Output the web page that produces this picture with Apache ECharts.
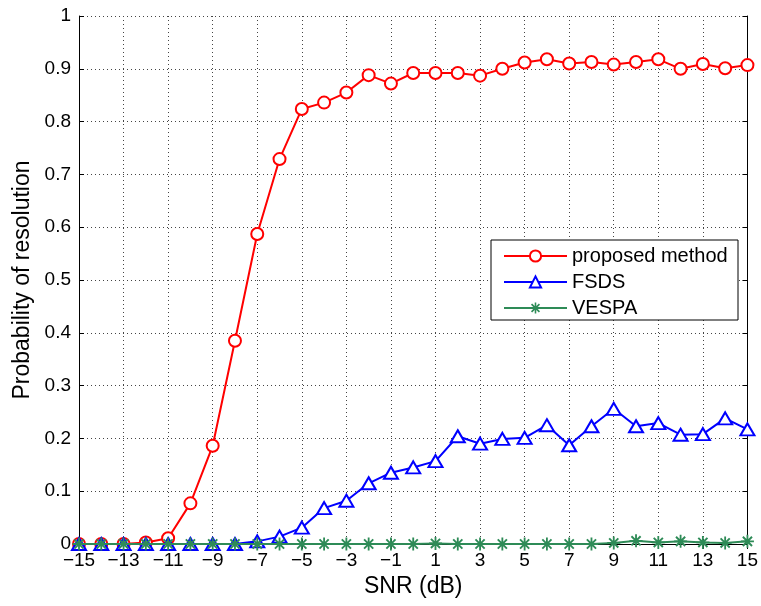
<!DOCTYPE html>
<html>
<head>
<meta charset="utf-8">
<script src="https://cdn.jsdelivr.net/npm/echarts@6/dist/echarts.min.js"></script>
<style>
  html, body { margin: 0; padding: 0; background: #fff; }
  #chart { width: 761px; height: 606px; }
</style>
</head>
<body>
<div id="chart"></div>
<script>
// SNR grid (dB)
const snr = [-15, -14, -13, -12, -11, -10, -9, -8, -7, -6, -5, -4, -3, -2, -1, 0,
             1, 2, 3, 4, 5, 6, 7, 8, 9, 10, 11, 12, 13, 14, 15];

// Probability of resolution per method
const proposed = [0, 0, 0, 0.003, 0.011, 0.077, 0.186, 0.385, 0.587, 0.729, 0.824,
                  0.836, 0.855, 0.888, 0.872, 0.892, 0.892, 0.892, 0.887, 0.900, 0.912,
                  0.918, 0.910, 0.913, 0.908, 0.913, 0.918, 0.900, 0.909, 0.901, 0.907];
const fsds = [0, 0, 0, 0, 0, 0, 0, 0, 0.005, 0.014, 0.031,
              0.068, 0.082, 0.115, 0.135, 0.145, 0.157, 0.204, 0.190, 0.199, 0.201,
              0.225, 0.187, 0.223, 0.256, 0.223, 0.229, 0.207, 0.208, 0.238, 0.217];
const vespa = [0, 0, 0, 0, 0, 0, 0, 0, 0, 0, 0,
               0, 0, 0, 0, 0, 0.001, 0, 0, 0, 0,
               0, 0, 0, 0.002, 0.006, 0.003, 0.005, 0.003, 0.002, 0.005];

const yTicks = ['0', '0.1', '0.2', '0.3', '0.4', '0.5', '0.6', '0.7', '0.8', '0.9', '1'];

// eight-armed asterisk marker
const asterisk = 'path://M8.6,0L11.4,0L11.4,20L8.6,20Z M0,8.6L20,8.6L20,11.4L0,11.4Z ' +
  'M4.0,1.9L18.1,16.0L16.0,18.1L1.9,4.0Z M16.0,1.9L18.1,4.0L4.0,18.1L1.9,16.0Z';

const FONT = '"Liberation Sans", Arial, Helvetica, sans-serif';
const dotted = { color: '#444', width: 1, type: [1, 3] };

const chart = echarts.init(document.getElementById('chart'), null, { renderer: 'canvas' });

const xBase = {
  type: 'category',
  data: snr,
  boundaryGap: false,
  axisLine: { lineStyle: { color: '#000', width: 1 } },
  axisTick: { inside: true, length: 5, interval: 1, lineStyle: { color: '#000' } },
};
const yBase = {
  type: 'value',
  min: 0, max: 1, interval: 0.1,
  axisLine: { show: true, lineStyle: { color: '#000', width: 1 } },
  axisTick: { show: true, inside: true, length: 5, lineStyle: { color: '#000' } },
};

chart.setOption({
  animation: false,
  backgroundColor: '#fff',
  textStyle: { fontFamily: FONT },
  grid: { left: 79, top: 16, right: 13, bottom: 62 },
  xAxis: [
    Object.assign({}, xBase, {
      position: 'bottom',
      name: 'SNR (dB)',
      nameLocation: 'middle',
      nameGap: 29,
      nameTextStyle: { fontSize: 23, color: '#000', fontFamily: FONT },
      axisLabel: {
        interval: 1, margin: 7, fontSize: 19, color: '#000', fontFamily: FONT,
        formatter: v => String(v).replace('-', '\u2212')
      },
      splitLine: { show: true, interval: 1, lineStyle: dotted }
    }),
    Object.assign({}, xBase, {
      position: 'top',
      axisLabel: { show: false },
      splitLine: { show: false }
    })
  ],
  yAxis: [
    Object.assign({}, yBase, {
      position: 'left',
      name: 'Probability of resolution',
      nameLocation: 'middle',
      nameGap: 44,
      nameTextStyle: { fontSize: 23, color: '#000', fontFamily: FONT },
      axisLabel: {
        margin: 8, fontSize: 19, color: '#000', fontFamily: FONT,
        formatter: (v) => yTicks[Math.round(v * 10)]
      },
      splitLine: { show: true, lineStyle: dotted }
    }),
    Object.assign({}, yBase, {
      position: 'right',
      axisLabel: { show: false },
      splitLine: { show: false }
    })
  ],
  legend: {
    orient: 'vertical',
    left: 491, top: 240,
    padding: [6, 10, 5, 12],
    itemWidth: 63, itemHeight: 14, itemGap: 6,
    z: 20,
    textStyle: { fontSize: 20, color: '#000', fontFamily: FONT },
    data: ['proposed method', 'FSDS', 'VESPA']
  },
  graphic: [{
    type: 'rect',
    z: 15,
    shape: { x: 491, y: 240, width: 247, height: 80 },
    style: { fill: '#fff', stroke: '#000', lineWidth: 1 }
  }],
  series: [
    {
      name: 'proposed method', type: 'line', data: proposed,
      symbol: 'emptyCircle', symbolSize: 12,
      lineStyle: { color: '#ff0000', width: 2 },
      itemStyle: { color: '#ff0000', borderWidth: 2 },
      z: 4
    },
    {
      name: 'FSDS', type: 'line', data: fsds,
      symbol: 'emptyTriangle', symbolSize: [14, 12],
      lineStyle: { color: '#0000ff', width: 2 },
      itemStyle: { color: '#0000ff', borderWidth: 2 },
      z: 5
    },
    {
      name: 'VESPA', type: 'line', data: vespa,
      symbol: asterisk, symbolSize: 13,
      lineStyle: { color: '#2e8b57', width: 2 },
      itemStyle: { color: '#2e8b57' },
      z: 6
    }
  ]
});
</script>
</body>
</html>
